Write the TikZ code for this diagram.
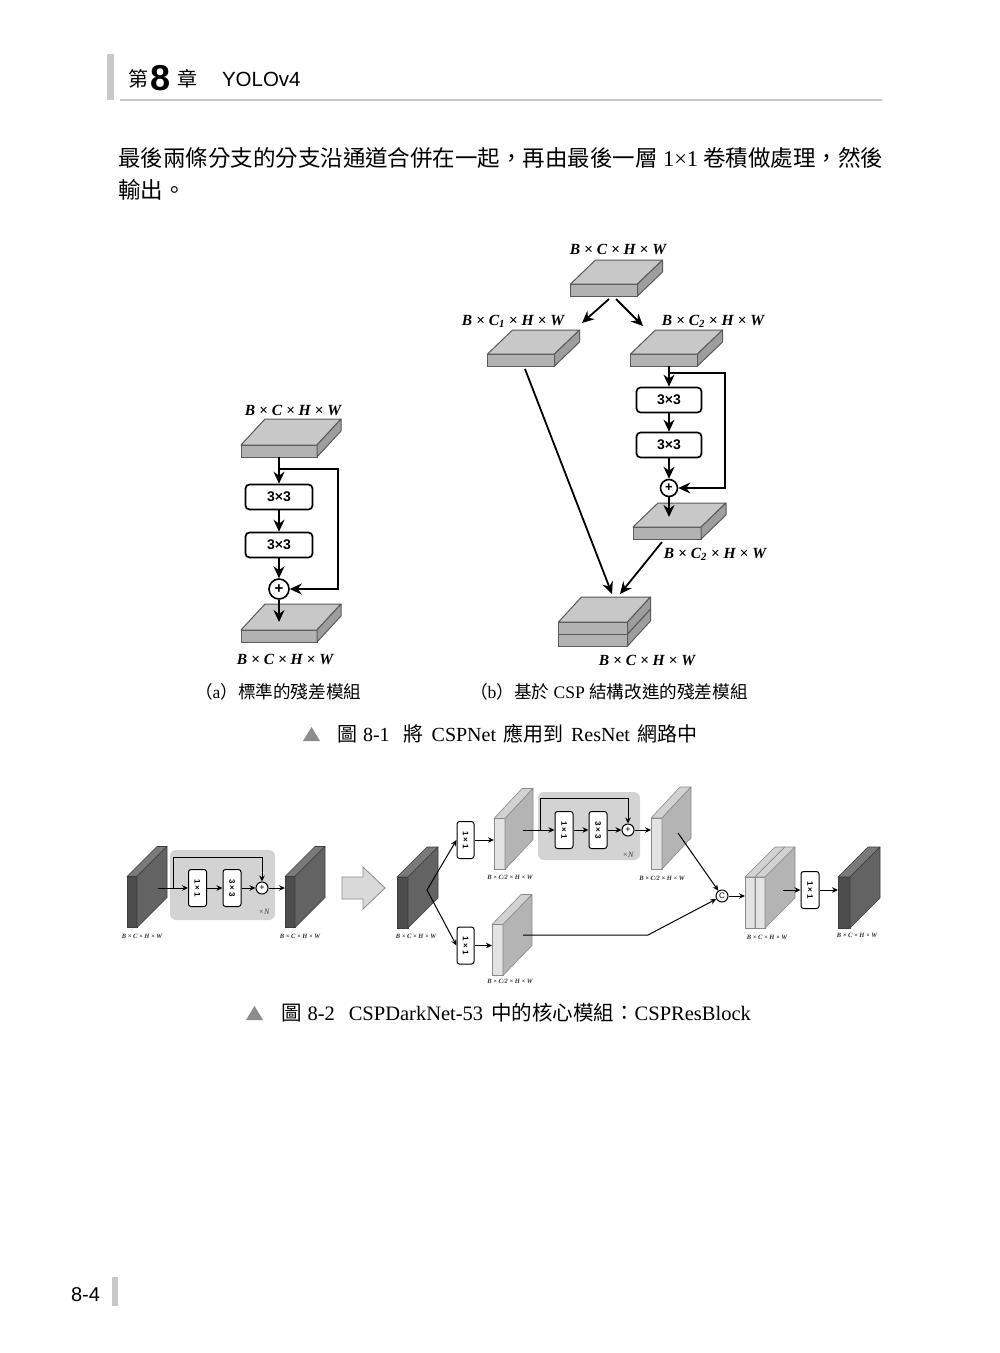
\documentclass[tikz,border=0pt]{standalone}
\usepackage{fontspec}
\setmainfont{Liberation Serif}
\newfontfamily\cjk{Noto Sans CJK TC}
\newfontfamily\lsans{Liberation Sans}
\usetikzlibrary{arrows.meta,calc}
\definecolor{slabtopc}{HTML}{C8C8C8}
\definecolor{slabfrontc}{HTML}{B2B2B2}
\definecolor{slabsidec}{HTML}{9E9E9E}
\definecolor{slabline}{HTML}{5A5A5A}
\definecolor{dkfront}{HTML}{4D4D4D}
\definecolor{dkside}{HTML}{636363}
\definecolor{dktop}{HTML}{7A7A7A}
\definecolor{dkline}{HTML}{3C3C3C}
\definecolor{ltfront}{HTML}{E3E3E3}
\definecolor{ltside}{HTML}{B4B4B4}
\definecolor{lttop}{HTML}{D2D2D2}
\definecolor{ltline}{HTML}{8A8A8A}
\definecolor{bgbox}{HTML}{D3D3D3}
\definecolor{barc}{HTML}{C8C8C8}
\definecolor{tric}{HTML}{8C8C8C}
\newcommand\boxfaces[4]{%
  \filldraw[#4top] (#1.north west) -- ([shift={(#2,-#3)}]#1.north west) -- ([shift={(#2,-#3)}]#1.north east) -- (#1.north east) -- cycle;
  \filldraw[#4side] (#1.north east) -- ([shift={(#2,-#3)}]#1.north east) -- ([shift={(#2,-#3)}]#1.south east) -- (#1.south east) -- cycle;
}
\tikzset{
  txt/.style={inner sep=0pt, outer sep=0pt},
  lbl/.style={txt, font=\bfseries\itshape\fontsize{15.5}{15.5}\selectfont},
  tiny/.style={txt, font=\bfseries\itshape\fontsize{6.5}{6.5}\selectfont, text=black!80},
  arr/.style={-{Stealth[length=12pt,width=11pt,inset=4pt]}, line width=1.8pt},
  arrs/.style={-{Stealth[length=6pt,width=5.5pt]}, line width=1pt},
  convbox/.style={draw, rounded corners=4pt, line width=1.7pt, minimum width=67pt, minimum height=25pt, inner sep=0pt, font=\lsans\bfseries\fontsize{14}{14}\selectfont},
  sbox/.style={draw, fill=white, rounded corners=2.5pt, line width=1pt, minimum width=18pt, minimum height=37pt, inner sep=0pt, font=\lsans\bfseries\fontsize{8}{8}\selectfont},
  plus/.style={draw, circle, line width=1.6pt, inner sep=0pt, fill=white, font=\lsans\bfseries\fontsize{15}{15}\selectfont},
  splus/.style={draw, circle, line width=1pt, inner sep=0pt, fill=white, minimum size=12pt, font=\lsans\fontsize{9}{9}\selectfont},
  slabfront/.style={draw=slabline, fill=slabfrontc, line width=1pt, inner sep=0pt, outer sep=0pt, minimum height=12pt},
  slabtop/.style={draw=slabline, fill=slabtopc, line width=1pt, line join=round},
  slabside/.style={draw=slabline, fill=slabsidec, line width=1pt, line join=round},
  dkfront/.style={draw=dkline, fill=dkfront, line width=0.6pt, inner sep=0pt, outer sep=0pt, minimum width=10pt, minimum height=51pt},
  dktop/.style={draw=dkline, fill=dktop, line width=0.6pt, line join=round},
  dkside/.style={draw=dkline, fill=dkside, line width=0.6pt, line join=round},
  ltfront/.style={draw=ltline, fill=ltfront, line width=0.6pt, inner sep=0pt, outer sep=0pt, minimum width=11pt, minimum height=51pt},
  lttop/.style={draw=ltline, fill=lttop, line width=0.6pt, line join=round},
  ltside/.style={draw=ltline, fill=ltside, line width=0.6pt, line join=round},
  bgrect/.style={fill=bgbox, rounded corners=6pt},
  times/.style={txt, font=\itshape\fontsize{8}{8}\selectfont, text=black!75},
}
\begin{document}
\begin{tikzpicture}[x=1pt,y=-1pt]
\useasboundingbox (0,0) rectangle (1000,1353);
\fill[white] (0,0) rectangle (1000,1353);

% ---------- header ----------
\fill[barc] (107,54) rectangle (114,100);
\node[txt, font=\cjk\fontsize{20}{20}\selectfont] (h1) at (138,79) {第};
\node[txt, font=\lsans\bfseries\fontsize{36}{36}\selectfont] (h2) at (161,78) {8};
\node[txt, font=\cjk\fontsize{20}{20}\selectfont] (h3) at (187,79) {章};
\node[txt, anchor=west, font=\lsans\fontsize{20.5}{20.5}\selectfont] (h4) at (222,79) {YOLOv4};
\draw[barc, line width=1.5pt] (120,100) -- (882,100);

% ---------- body ----------
\node[txt, anchor=west, font=\cjk\fontsize{22.5}{22.5}\selectfont] (body1) at (118,158) {最後兩條分支的分支沿通道合併在一起，再由最後一層 {\rmfamily 1×1} 卷積做處理，然後};
\node[txt, anchor=west, font=\cjk\fontsize{22.5}{22.5}\selectfont] (body2) at (118,190) {輸出。};

% ---------- figure 8-1 (a) ----------
\node[lbl] (a-l1) at (293,410) {B × C × H × W};
\node[slabfront, minimum width=76pt] (a-in) at (279,451) {};
\boxfaces{a-in}{24}{26}{slab}
\node[convbox] (a-c1) at (279,497) {3×3};
\node[convbox] (a-c2) at (279,545) {3×3};
\node[plus, minimum size=20pt] (a-plus) at (279,589) {+};
\node[slabfront, minimum width=76pt] (a-out) at (279,636) {};
\boxfaces{a-out}{24}{26}{slab}
\coordinate (a-split) at (279,469);
\coordinate (a-end) at (279,622);
\draw[arr] (a-in) -- (a-c1);
\draw[arr] (a-c1) -- (a-c2);
\draw[arr] (a-c2) -- (a-plus);
\draw[arr] (a-split) -- ++(59,0) |- (a-plus);
\draw[arr] (a-plus) -- (a-end);
\node[lbl] (a-l2) at (285,659) {B × C × H × W};

% ---------- figure 8-1 (b) ----------
\node[lbl] (b-l1) at (618,249) {B × C × H × W};
\node[slabfront, minimum width=67pt] (b-in) at (604,290) {};
\boxfaces{b-in}{25}{24}{slab}
\coordinate (b-s1) at (609,299);
\coordinate (b-e1) at (582,323);
\coordinate (b-s2) at (616,299);
\coordinate (b-e2) at (643,326);
\draw[arr] (b-s1) -- (b-e1);
\draw[arr] (b-s2) -- (b-e2);
\node[lbl] (b-l2) at (513,321) {B × C\textsubscript{1} × H × W};
\node[lbl] (b-l3) at (713,321) {B × C\textsubscript{2} × H × W};
\node[slabfront, minimum width=67pt] (b-c1s) at (521,360) {};
\boxfaces{b-c1s}{25}{24}{slab}
\node[slabfront, minimum width=67pt] (b-c2s) at (664,360) {};
\boxfaces{b-c2s}{25}{24}{slab}
\node[convbox, minimum width=65pt] (b-c1) at (669,400) {3×3};
\node[convbox, minimum width=65pt] (b-c2) at (669,445) {3×3};
\node[plus, minimum size=17pt, font=\lsans\bfseries\fontsize{13}{13}\selectfont] (b-plus) at (669,488) {+};
\coordinate (b-split) at (669,373);
\draw[arr] (b-c2s.south -| b-c1) -- (b-c1);
\draw[arr] (b-c1) -- (b-c2);
\draw[arr] (b-c2) -- (b-plus);
\draw[arr] (b-split) -- ++(56,0) |- (b-plus);
\node[slabfront, minimum width=68pt] (b-out2) at (667,533) {};
\boxfaces{b-out2}{25}{24}{slab}
\coordinate (b-e3) at (669,517);
\draw[arr] (b-plus) -- (b-e3);
\node[lbl] (b-l4) at (715,554) {B × C\textsubscript{2} × H × W};
% concatenated slab
\node[slabfront, minimum width=69pt] (b-cat2) at (593,640) {};
\boxfaces{b-cat2}{23}{25}{slab}
\node[slabfront, minimum width=69pt] (b-cat1) at (593,628) {};
\boxfaces{b-cat1}{23}{25}{slab}
\coordinate (b-s4) at (525,369);
\coordinate (b-e4) at (612,594);
\coordinate (b-s5) at (662,542);
\coordinate (b-e5) at (620,594);
\draw[arr] (b-s4) -- (b-e4);
\draw[arr] (b-s5) -- (b-e5);
\node[lbl] (b-l5) at (647,660) {B × C × H × W};

% ---------- captions 8-1 ----------
\node[txt, anchor=west, font=\fontsize{17.6}{17.6}\selectfont] (cap-a) at (195,692) {{\cjk（}a{\cjk）標準的殘差模組}};
\node[txt, anchor=west, font=\fontsize{17.6}{17.6}\selectfont] (cap-b) at (470,692) {{\cjk（}b{\cjk）基於} CSP {\cjk 結構改進的殘差模組}};
\fill[tric] (303,741) -- (320,741) -- (311.5,727) -- cycle;
\node[txt, anchor=west, font=\fontsize{20}{20}\selectfont] (cap1) at (337,734) {{\cjk 圖}\hspace{6pt}8-1\hspace{14pt}{\cjk 將}\hspace{8pt}CSPNet\hspace{7pt}{\cjk 應用到}\hspace{8pt}ResNet\hspace{7pt}{\cjk 網路中}};

% ---------- figure 8-2 left ----------
\node[dkfront] (L1) at (132,902) {};
\boxfaces{L1}{30}{30}{dk}
\fill[bgrect] (170,850) rectangle (275,920);
\node[sbox] (L-b1) at (197.5,888) {\rotatebox{-90}{1 × 1}};
\node[sbox] (L-b2) at (232,888) {\rotatebox{-90}{3 × 3}};
\node[splus] (L-plus) at (262,888) {+};
\coordinate (L-in) at (158,888);
\coordinate (L-split) at (173,888);
\draw[arrs] (L-in) -- (L-b1);
\draw[arrs] (L-b1) -- (L-b2);
\draw[arrs] (L-b2) -- (L-plus);
\draw[arrs] (L-split) -- ++(0,-31) -| (L-plus);
\node[times] (L-n) at (264,912) {×N};
\node[dkfront] (L2) at (290,902) {};
\boxfaces{L2}{30}{30}{dk}
\draw[arrs] (L-plus) -- (L-plus -| L2.west);
\node[tiny] (L-l1) at (142,936) {B × C × H × W};
\node[tiny] (L-l2) at (300,936) {B × C × H × W};

% big arrow
\filldraw[fill=black!15, draw=black!45, line width=0.8pt, line join=miter] (342,877) -- (363,877) -- (363,867) -- (385,888) -- (363,909) -- (363,899) -- (342,899) -- cycle;

% ---------- figure 8-2 right ----------
\node[dkfront, minimum width=11pt] (M) at (402.5,902.5) {};
\boxfaces{M}{30}{30}{dk}
\node[tiny] (M-l) at (416,936) {B × C × H × W};
\coordinate (M-split) at (427,890);
\node[sbox, minimum width=17pt] (T-b) at (465.5,840) {\rotatebox{-90}{1 × 1}};
\node[sbox, minimum width=17pt] (B-b) at (465.5,945.5) {\rotatebox{-90}{1 × 1}};
\draw[arrs] (M-split) -- (T-b.west);
\draw[arrs] (M-split) -- (B-b.west);
% top branch
\node[ltfront] (T1) at (499.5,844) {};
\boxfaces{T1}{28}{30}{lt}
\draw[arrs] (T-b) -- (T-b -| T1.west);
\node[tiny] (T1-l) at (510,877) {B × C/2 × H × W};
\fill[bgrect] (538,792) rectangle (640,860);
\node[sbox] (T-c1) at (564,830) {\rotatebox{-90}{1 × 1}};
\node[sbox] (T-c2) at (598,830) {\rotatebox{-90}{3 × 3}};
\node[splus] (T-plus) at (628,830) {+};
\coordinate (T-in) at (523,830);
\coordinate (T-split) at (540,830);
\draw[arrs] (T-in) -- (T-c1);
\draw[arrs] (T-c1) -- (T-c2);
\draw[arrs] (T-c2) -- (T-plus);
\draw[arrs] (T-split) -- ++(0,-32) -| (T-plus);
\node[times] (T-n) at (628,855) {×N};
\node[ltfront] (T2) at (656.5,843.5) {};
\boxfaces{T2}{29}{31}{lt}
\draw[arrs] (T-plus) -- (T-plus -| T2.west);
\node[tiny] (T2-l) at (662,878) {B × C/2 × H × W};
% bottom branch
\node[ltfront] (B1) at (497.5,950) {};
\boxfaces{B1}{29}{30}{lt}
\draw[arrs] (B-b) -- (B-b -| B1.west);
\node[tiny] (B1-l) at (510,981) {B × C/2 × H × W};
% concat
\node[splus, font=\lsans\fontsize{8}{8}\selectfont] (Cc) at (722,896) {C};
\coordinate (T2-out) at (678,833);
\coordinate (B1-out) at (523,935);
\draw[arrs] (T2-out) -- (Cc);
\draw[arrs] (B1-out) -- ++(125,0) -- (Cc);
\node[ltfront, minimum width=10pt] (K1) at (750,902.5) {};
\boxfaces{K1}{30}{30}{lt}
\node[ltfront, minimum width=10pt] (K2) at (760,902.5) {};
\boxfaces{K2}{30}{30}{lt}
\draw[arrs] (Cc) -- (Cc -| K1.west);
\node[tiny] (K-l) at (767,937) {B × C × H × W};
\node[sbox] (R-b) at (810,890) {\rotatebox{-90}{1 × 1}};
\coordinate (K-out) at (783,890);
\draw[arrs] (K-out) -- (R-b);
\node[dkfront, minimum width=12pt] (R) at (844,902.5) {};
\boxfaces{R}{30}{30}{dk}
\draw[arrs] (R-b) -- (R-b -| R.west);
\node[tiny] (R-l) at (857,935) {B × C × H × W};

% ---------- caption 8-2 ----------
\fill[tric] (246,1020) -- (263,1020) -- (254.5,1006) -- cycle;
\node[txt, anchor=west, font=\fontsize{20.5}{20.5}\selectfont] (cap2) at (281,1013) {{\cjk 圖}\hspace{6pt}8-2\hspace{14pt}CSPDarkNet-53\hspace{8pt}{\cjk 中的核心模組：}CSPResBlock};

% ---------- footer ----------
\node[txt, anchor=east, font=\lsans\fontsize{20}{20}\selectfont] (foot) at (100,1295) {8-4};
\fill[barc] (112,1277) rectangle (118,1306);
\end{tikzpicture}
\end{document}
